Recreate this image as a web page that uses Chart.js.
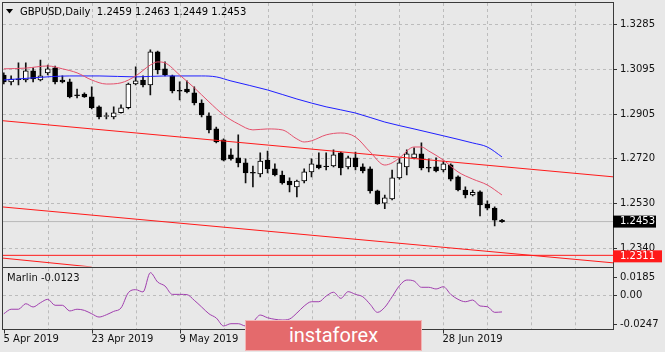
<!DOCTYPE html>
<html>
<head>
<meta charset="utf-8">
<script src="https://cdn.jsdelivr.net/npm/chart.js@4.4.1/dist/chart.umd.min.js"></script>
<style>
html, body { margin: 0; padding: 0; background: #e8e8e8; }
#wrap { position: relative; width: 665px; height: 352px; overflow: hidden; background: #e8e8e8; }
#main { position: absolute; left: 0; top: 0; }
#sub { position: absolute; left: 0; top: 266px; }
#mark {
  position: absolute; left: 245px; top: 320px; width: 177px; height: 31px;
  background: #e46a6c; border: 1px solid #f3b5b5; box-sizing: border-box;
  color: #fff; font: 20px Roboto, sans-serif; text-align: center; line-height: 28px;
}
</style>
</head>
<body>
<div id="wrap">
  <canvas id="main" width="665" height="268"></canvas>
  <canvas id="sub" width="665" height="86"></canvas>
  <div id="mark">instaforex</div>
</div>
<script>
// GBPUSD daily, 5 Apr 2019 .. 10 Jul 2019 (bar index 0..68)
const open  = [1.3070,1.3041,1.3054,1.3049,1.3087,1.3049,1.3079,1.3100,1.3049,1.3041,
               1.2986,1.2990,1.2978,1.2936,1.2896,1.2894,1.2911,1.2932,1.3032,1.3049,
               1.3028,1.3167,1.3096,1.3066,1.3005,1.3011,1.2995,1.2952,1.2898,1.2843,
               1.2797,1.2734,1.2721,1.2700,1.2660,1.2654,1.2712,1.2675,1.2649,1.2624,
               1.2599,1.2624,1.2662,1.2692,1.2687,1.2687,1.2742,1.2683,1.2721,1.2683,
               1.2675,1.2582,1.2531,1.2548,1.2637,1.2683,1.2721,1.2738,1.2681,1.2683,
               1.2670,1.2692,1.2641,1.2586,1.2565,1.2578,1.2527,1.2510,1.2459];
const high  = [1.3079,1.3066,1.3121,1.3121,1.3100,1.3133,1.3112,1.3108,1.3066,1.3053,
               1.3011,1.2995,1.3020,1.2940,1.2911,1.2936,1.2944,1.3036,1.3104,1.3066,
               1.3176,1.3171,1.3125,1.3070,1.3041,1.3045,1.3020,1.2965,1.2911,1.2851,
               1.2801,1.2759,1.2818,1.2717,1.2687,1.2742,1.2750,1.2696,1.2666,1.2637,
               1.2628,1.2675,1.2717,1.2742,1.2742,1.2755,1.2746,1.2729,1.2746,1.2696,
               1.2683,1.2586,1.2565,1.2670,1.2721,1.2755,1.2763,1.2784,1.2717,1.2721,
               1.2708,1.2696,1.2646,1.2599,1.2586,1.2582,1.2540,1.2515,1.2463];
const low   = [1.3032,1.3028,1.3028,1.3041,1.3041,1.3045,1.3070,1.3032,1.3037,1.2974,
               1.2974,1.2976,1.2927,1.2885,1.2885,1.2885,1.2909,1.2927,1.3028,1.3020,
               1.2986,1.3075,1.3066,1.2995,1.2965,1.2995,1.2944,1.2894,1.2826,1.2784,
               1.2708,1.2712,1.2683,1.2616,1.2599,1.2641,1.2658,1.2645,1.2611,1.2578,
               1.2557,1.2616,1.2641,1.2675,1.2670,1.2683,1.2649,1.2675,1.2670,1.2658,
               1.2573,1.2525,1.2507,1.2544,1.2632,1.2649,1.2717,1.2670,1.2662,1.2662,
               1.2662,1.2624,1.2582,1.2553,1.2561,1.2477,1.2502,1.2435,1.2449];
const close = [1.3041,1.3053,1.3050,1.3087,1.3053,1.3066,1.3096,1.3041,1.3041,1.2978,
               1.2983,1.2978,1.2932,1.2894,1.2899,1.2911,1.2932,1.3032,1.3045,1.3028,
               1.3167,1.3091,1.3070,1.3003,1.3002,1.2999,1.2952,1.2902,1.2839,1.2788,
               1.2712,1.2717,1.2700,1.2658,1.2657,1.2708,1.2675,1.2649,1.2616,1.2607,
               1.2624,1.2662,1.2696,1.2679,1.2684,1.2734,1.2679,1.2721,1.2683,1.2666,
               1.2582,1.2527,1.2553,1.2637,1.2700,1.2738,1.2738,1.2679,1.2678,1.2666,
               1.2696,1.2632,1.2586,1.2565,1.2576,1.2523,1.2510,1.2459,1.2453];

// moving averages (bar index -> price)
const maRedBars = [0,3,6,8,10,12,14,16,18,20,21,22,24,26,28,30,32,34,36,38,40,41,42,44,46,48,50,52,53,54,56,57,58,60,62,64,66,68];
const maRed     = [1.3096,1.3099,1.3108,1.3096,1.3079,1.3049,1.3032,1.3037,1.3066,1.3112,1.3125,1.3121,1.3070,1.3016,1.2957,1.2902,1.2864,1.2839,1.2843,1.2839,1.2801,1.2788,1.2793,1.2818,1.2826,1.2809,1.2746,1.2691,1.2700,1.2721,1.2767,1.2767,1.2750,1.2712,1.2662,1.2632,1.2607,1.2565];
const maBlueBars = [0,4,9,13,18,22,27,29,31,36,40,44,48,52,56,60,64,66,68];
const maBlue     = [1.3049,1.3058,1.3066,1.3066,1.3062,1.3066,1.3066,1.3062,1.3045,1.3007,1.2969,1.2936,1.2910,1.2872,1.2843,1.2814,1.2784,1.2767,1.2725];

// trend lines: [bar, price] end points
const trendUpper = [[-1, 1.2880], [84, 1.2639]];
const trendLower = [[-1, 1.2517], [84, 1.2277]];
const trendBottom = [[-1, 1.2302], [12, 1.2262]];
const levelPrice = 1.2311;
const lastPrice = 1.2453;

// Marlin oscillator
const marlin = [-0.0136,-0.0104,-0.0104,-0.0065,-0.0088,-0.0058,-0.0034,-0.0076,-0.0076,-0.0116,
                -0.0104,-0.0112,-0.0136,-0.0159,-0.0143,-0.0119,-0.0095,0.0013,0.0034,0.0018,
                0.0154,0.0088,0.0060,0.0001,0.0001,-0.0001,-0.0041,-0.0088,-0.0136,-0.0166,
                -0.0222,-0.0206,-0.0206,-0.0222,-0.0194,-0.0145,-0.0164,-0.0175,-0.0180,-0.0173,
                -0.0131,-0.0081,-0.0051,-0.0051,-0.0011,0.0016,-0.0027,0.0020,0.0001,-0.0016,
                -0.0069,-0.0126,-0.0090,-0.0016,0.0062,0.0102,0.0095,0.0051,0.0051,0.0039,
                0.0055,0.0001,-0.0034,-0.0051,-0.0039,-0.0081,-0.0086,-0.0126,-0.0123];

// axes
const priceTicks = [1.3285, 1.3095, 1.2905, 1.2720, 1.2530, 1.2340];
const marlinTicks = [0.0185, 0, -0.0247];
const marlinTickLabels = ['0.0185', '0.00', '-0.0247'];
const gridBars = [6, 12, 18, 24, 30, 36, 42, 48, 54, 60, 66, 72, 78];
const dateBars = [0, 12, 24, 36, 48, 60];
const dateLabels = ['5 Apr 2019', '23 Apr 2019', '9 May 2019', '27 May 2019', '12 Jun 2019', '28 Jun 2019'];
const title = 'GBPUSD,Daily  1.2459 1.2463 1.2449 1.2453';
const marlinTitle = 'Marlin -0.0123';

const FONT = '10px "DejaVu Sans"';
const X_MIN = -0.11, X_MAX = 83.15;

const idx = open.map((_, i) => i);
const pts = (xs, ys) => xs.map((x, i) => ({ x: x, y: ys[i] }));
const seg = arr => arr.map(p => ({ x: p[0], y: p[1] }));

function drawGrid(chart, yTicks) {
  const { ctx, chartArea: a, scales: { x, y } } = chart;
  ctx.save();
  ctx.strokeStyle = '#bcbcbc';
  ctx.lineWidth = 1;
  ctx.setLineDash([3, 3]);
  gridBars.forEach(b => {
    const px = Math.round(x.getPixelForValue(b)) + 0.5;
    ctx.beginPath(); ctx.moveTo(px, a.top); ctx.lineTo(px, a.bottom); ctx.stroke();
  });
  yTicks.forEach(v => {
    const py = Math.round(y.getPixelForValue(v)) + 0.5;
    ctx.beginPath(); ctx.moveTo(a.left, py); ctx.lineTo(a.right, py); ctx.stroke();
  });
  ctx.restore();
}

function drawFrame(chart) {
  const { ctx, chartArea: a } = chart;
  ctx.save();
  ctx.strokeStyle = '#3a3a3a';
  ctx.lineWidth = 1;
  ctx.strokeRect(Math.round(a.left) - 0.5, Math.round(a.top) - 0.5,
                 Math.round(a.right - a.left) + 1, Math.round(a.bottom - a.top) + 1);
  ctx.restore();
}

const mainPlugin = {
  id: 'mainPlugin',
  beforeDatasetsDraw(chart) { drawGrid(chart, priceTicks); },
  afterDraw(chart) {
    const { ctx, chartArea: a, scales: { y } } = chart;
    drawFrame(chart);
    ctx.save();
    ctx.font = FONT;
    ctx.textBaseline = 'middle';
    ctx.fillStyle = '#111';
    ctx.strokeStyle = '#333';
    priceTicks.forEach(v => {
      const py = Math.round(y.getPixelForValue(v)) + 0.5;
      ctx.beginPath(); ctx.moveTo(a.right, py); ctx.lineTo(a.right + 4, py); ctx.stroke();
      ctx.fillText(v.toFixed(4), a.right + 7, py);
    });
    // last price box
    let py = y.getPixelForValue(lastPrice);
    ctx.fillStyle = '#000';
    ctx.fillRect(a.right, py - 6, 43, 12);
    ctx.fillStyle = '#fff';
    ctx.fillText(lastPrice.toFixed(4), a.right + 7, py);
    // level box
    py = y.getPixelForValue(levelPrice);
    ctx.fillStyle = '#ff1a1a';
    ctx.fillRect(a.right, py - 5, 49, 12);
    ctx.fillStyle = '#fff';
    ctx.fillText(levelPrice.toFixed(4), a.right + 7, py + 1);
    // title
    ctx.fillStyle = '#000';
    ctx.beginPath(); ctx.moveTo(6, 9); ctx.lineTo(13, 9); ctx.lineTo(9.5, 13.5); ctx.closePath(); ctx.fill();
    ctx.fillText(title, 20, 12);
    ctx.restore();
  }
};

const subPlugin = {
  id: 'subPlugin',
  beforeDatasetsDraw(chart) { drawGrid(chart, [0]); },
  afterDraw(chart) {
    const { ctx, chartArea: a, scales: { x, y } } = chart;
    drawFrame(chart);
    ctx.save();
    ctx.font = FONT;
    ctx.textBaseline = 'middle';
    ctx.fillStyle = '#111';
    ctx.strokeStyle = '#333';
    marlinTicks.forEach((v, i) => {
      const py = Math.round(Math.min(Math.max(y.getPixelForValue(v), a.top + 8.5), a.bottom - 6)) + 0.5;
      ctx.beginPath(); ctx.moveTo(a.right, py); ctx.lineTo(a.right + 4, py); ctx.stroke();
      ctx.fillText(marlinTickLabels[i], a.right + 7, py);
    });
    dateBars.forEach((b, i) => {
      const px = Math.round(x.getPixelForValue(b)) + 0.5;
      ctx.beginPath(); ctx.moveTo(px, a.bottom); ctx.lineTo(px, a.bottom + 4); ctx.stroke();
      ctx.fillText(dateLabels[i], px - 1, a.bottom + 10);
    });
    ctx.fillStyle = '#111';
    ctx.fillText(marlinTitle, 7, a.top + 10);
    ctx.restore();
  }
};

const lineStyle = (data, color, order) => ({
  type: 'line', data: data, borderColor: color, borderWidth: 1,
  pointRadius: 0, fill: false, order: order, cubicInterpolationMode: 'monotone'
});

new Chart(document.getElementById('main'), {
  type: 'bar',
  data: {
    datasets: [
      lineStyle(pts(maRedBars, maRed), '#e4506c', 1),
      lineStyle(pts(maBlueBars, maBlue), '#1f1fff', 1),
      lineStyle(seg(trendUpper), '#ff1a1a', 1),
      lineStyle(seg(trendLower), '#ff1a1a', 1),
      lineStyle(seg(trendBottom), '#ff1a1a', 1),
      lineStyle(seg([[-1, levelPrice], [84, levelPrice]]), '#ff1a1a', 1),
      lineStyle(seg([[-1, lastPrice], [84, lastPrice]]), '#b8b8b8', 9),
      {
        type: 'bar', order: 2, grouped: false,
        data: idx.map(i => ({ x: i, y: [open[i], close[i]] })),
        backgroundColor: idx.map(i => close[i] >= open[i] ? '#ffffff' : '#000000'),
        borderColor: '#000', borderWidth: 1, borderSkipped: false, barThickness: 5
      },
      {
        type: 'bar', order: 3, grouped: false,
        data: idx.map(i => ({ x: i, y: [low[i], high[i]] })),
        backgroundColor: '#111', borderWidth: 0, barThickness: 1
      }
    ]
  },
  options: {
    responsive: false, animation: false, events: [],
    layout: { padding: { left: 3, top: 3, right: 52, bottom: 1.5 } },
    plugins: { legend: { display: false }, tooltip: { enabled: false } },
    scales: {
      x: { type: 'linear', min: X_MIN, max: X_MAX, display: false, offset: false },
      y: { type: 'linear', min: 1.2264, max: 1.3373, display: false }
    }
  },
  plugins: [mainPlugin]
});

new Chart(document.getElementById('sub'), {
  type: 'line',
  data: {
    datasets: [lineStyle(idx.map(i => ({ x: i, y: marlin[i] })), '#a03fae', 1)]
  },
  options: {
    responsive: false, animation: false, events: [],
    layout: { padding: { left: 3, top: 2.3, right: 52, bottom: 22.5 } },
    plugins: { legend: { display: false }, tooltip: { enabled: false } },
    elements: { line: { cubicInterpolationMode: 'default', tension: 0 } },
    scales: {
      x: { type: 'linear', min: X_MIN, max: X_MAX, display: false, offset: false },
      y: { type: 'linear', min: -0.0247, max: 0.0185, display: false }
    }
  },
  plugins: [subPlugin]
});
</script>
</body>
</html>
